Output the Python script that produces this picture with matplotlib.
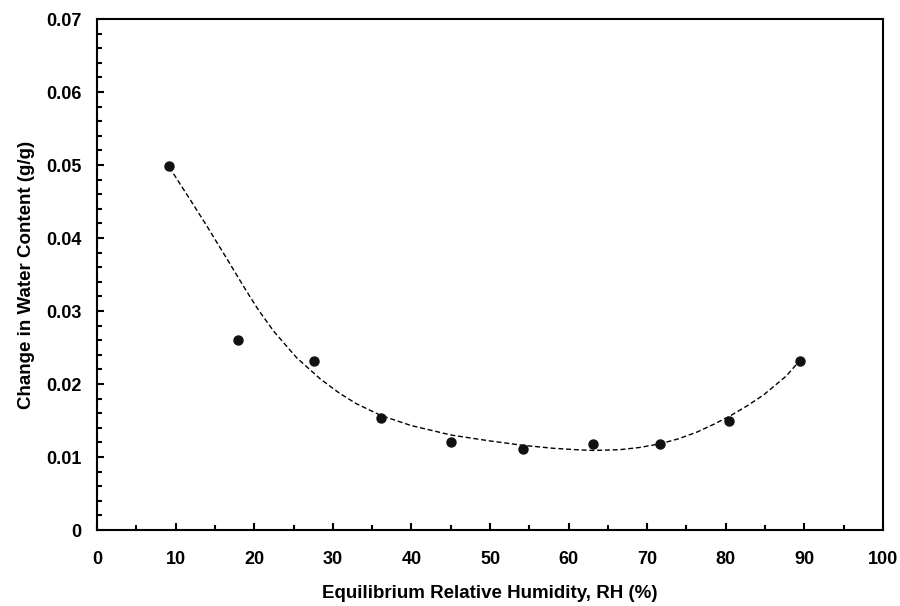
import matplotlib.pyplot as plt
from matplotlib.ticker import MultipleLocator, FuncFormatter

# measured points: equilibrium RH (%) vs change in water content (g/g)
rh = [9.2, 17.9, 27.6, 36.1, 45.0, 54.2, 63.1, 71.6, 80.4, 89.4]
dw = [0.0498, 0.0260, 0.0232, 0.0153, 0.0120, 0.0111, 0.0118, 0.0118, 0.0150, 0.0231]

# dashed trend line
trend_rh = [9.2, 12, 14, 16.5, 18.8, 20.5, 22.5, 25.4, 28.4, 30.9, 33, 36.1, 40, 45.1,
            50, 54.2, 58, 61, 63.1, 66.5, 69, 71.6, 74, 76.3, 78.5, 80.5, 82.7,
            84.8, 87.7, 89.4]
trend_dw = [0.0497, 0.0450, 0.0416, 0.0372, 0.0331, 0.0302, 0.0272, 0.0236, 0.0207,
            0.0187, 0.0173, 0.0157, 0.0143, 0.0130, 0.0122, 0.0116, 0.0112, 0.0110,
            0.0109, 0.0110, 0.0113, 0.0118, 0.0125, 0.0134, 0.0145, 0.0156, 0.0170,
            0.0185, 0.0211, 0.0232]

plt.rcParams['font.family'] = ['Liberation Sans', 'DejaVu Sans']
plt.rcParams['font.weight'] = 'bold'

fig = plt.figure(figsize=(9, 6.06), dpi=100)
ax = fig.add_axes([0.1078, 0.1254, 0.8733, 0.8432])

ax.plot(trend_rh, trend_dw, color='black', lw=1.0, ls=(0, (3.6, 2)))
ax.plot(rh, dw, 'o', color='#111111', ms=6.5)

ax.set_xlim(0, 100)
ax.set_ylim(0, 0.07)
ax.xaxis.set_major_locator(MultipleLocator(10))
ax.xaxis.set_minor_locator(MultipleLocator(5))
ax.yaxis.set_major_locator(MultipleLocator(0.01))
ax.yaxis.set_minor_locator(MultipleLocator(0.002))
ax.yaxis.set_major_formatter(FuncFormatter(lambda v, p: '0' if abs(v) < 1e-9 else '%.2f' % v))

ax.tick_params(which='both', direction='in', top=False, right=False, width=1.5, labelsize=13)
ax.tick_params(axis='y', which='both', pad=11)
ax.tick_params(axis='x', which='both', pad=15)
ax.tick_params(which='major', length=5)
ax.tick_params(which='minor', length=3.5)
for s in ax.spines.values():
    s.set_linewidth(1.5)

ax.set_xlabel('Equilibrium Relative Humidity, RH (%)', fontsize=13.5, fontweight='bold', labelpad=12)
ax.set_ylabel('Change in Water Content (g/g)', fontsize=13.5, fontweight='bold', labelpad=8)

fig.savefig('out.png', dpi=100)
